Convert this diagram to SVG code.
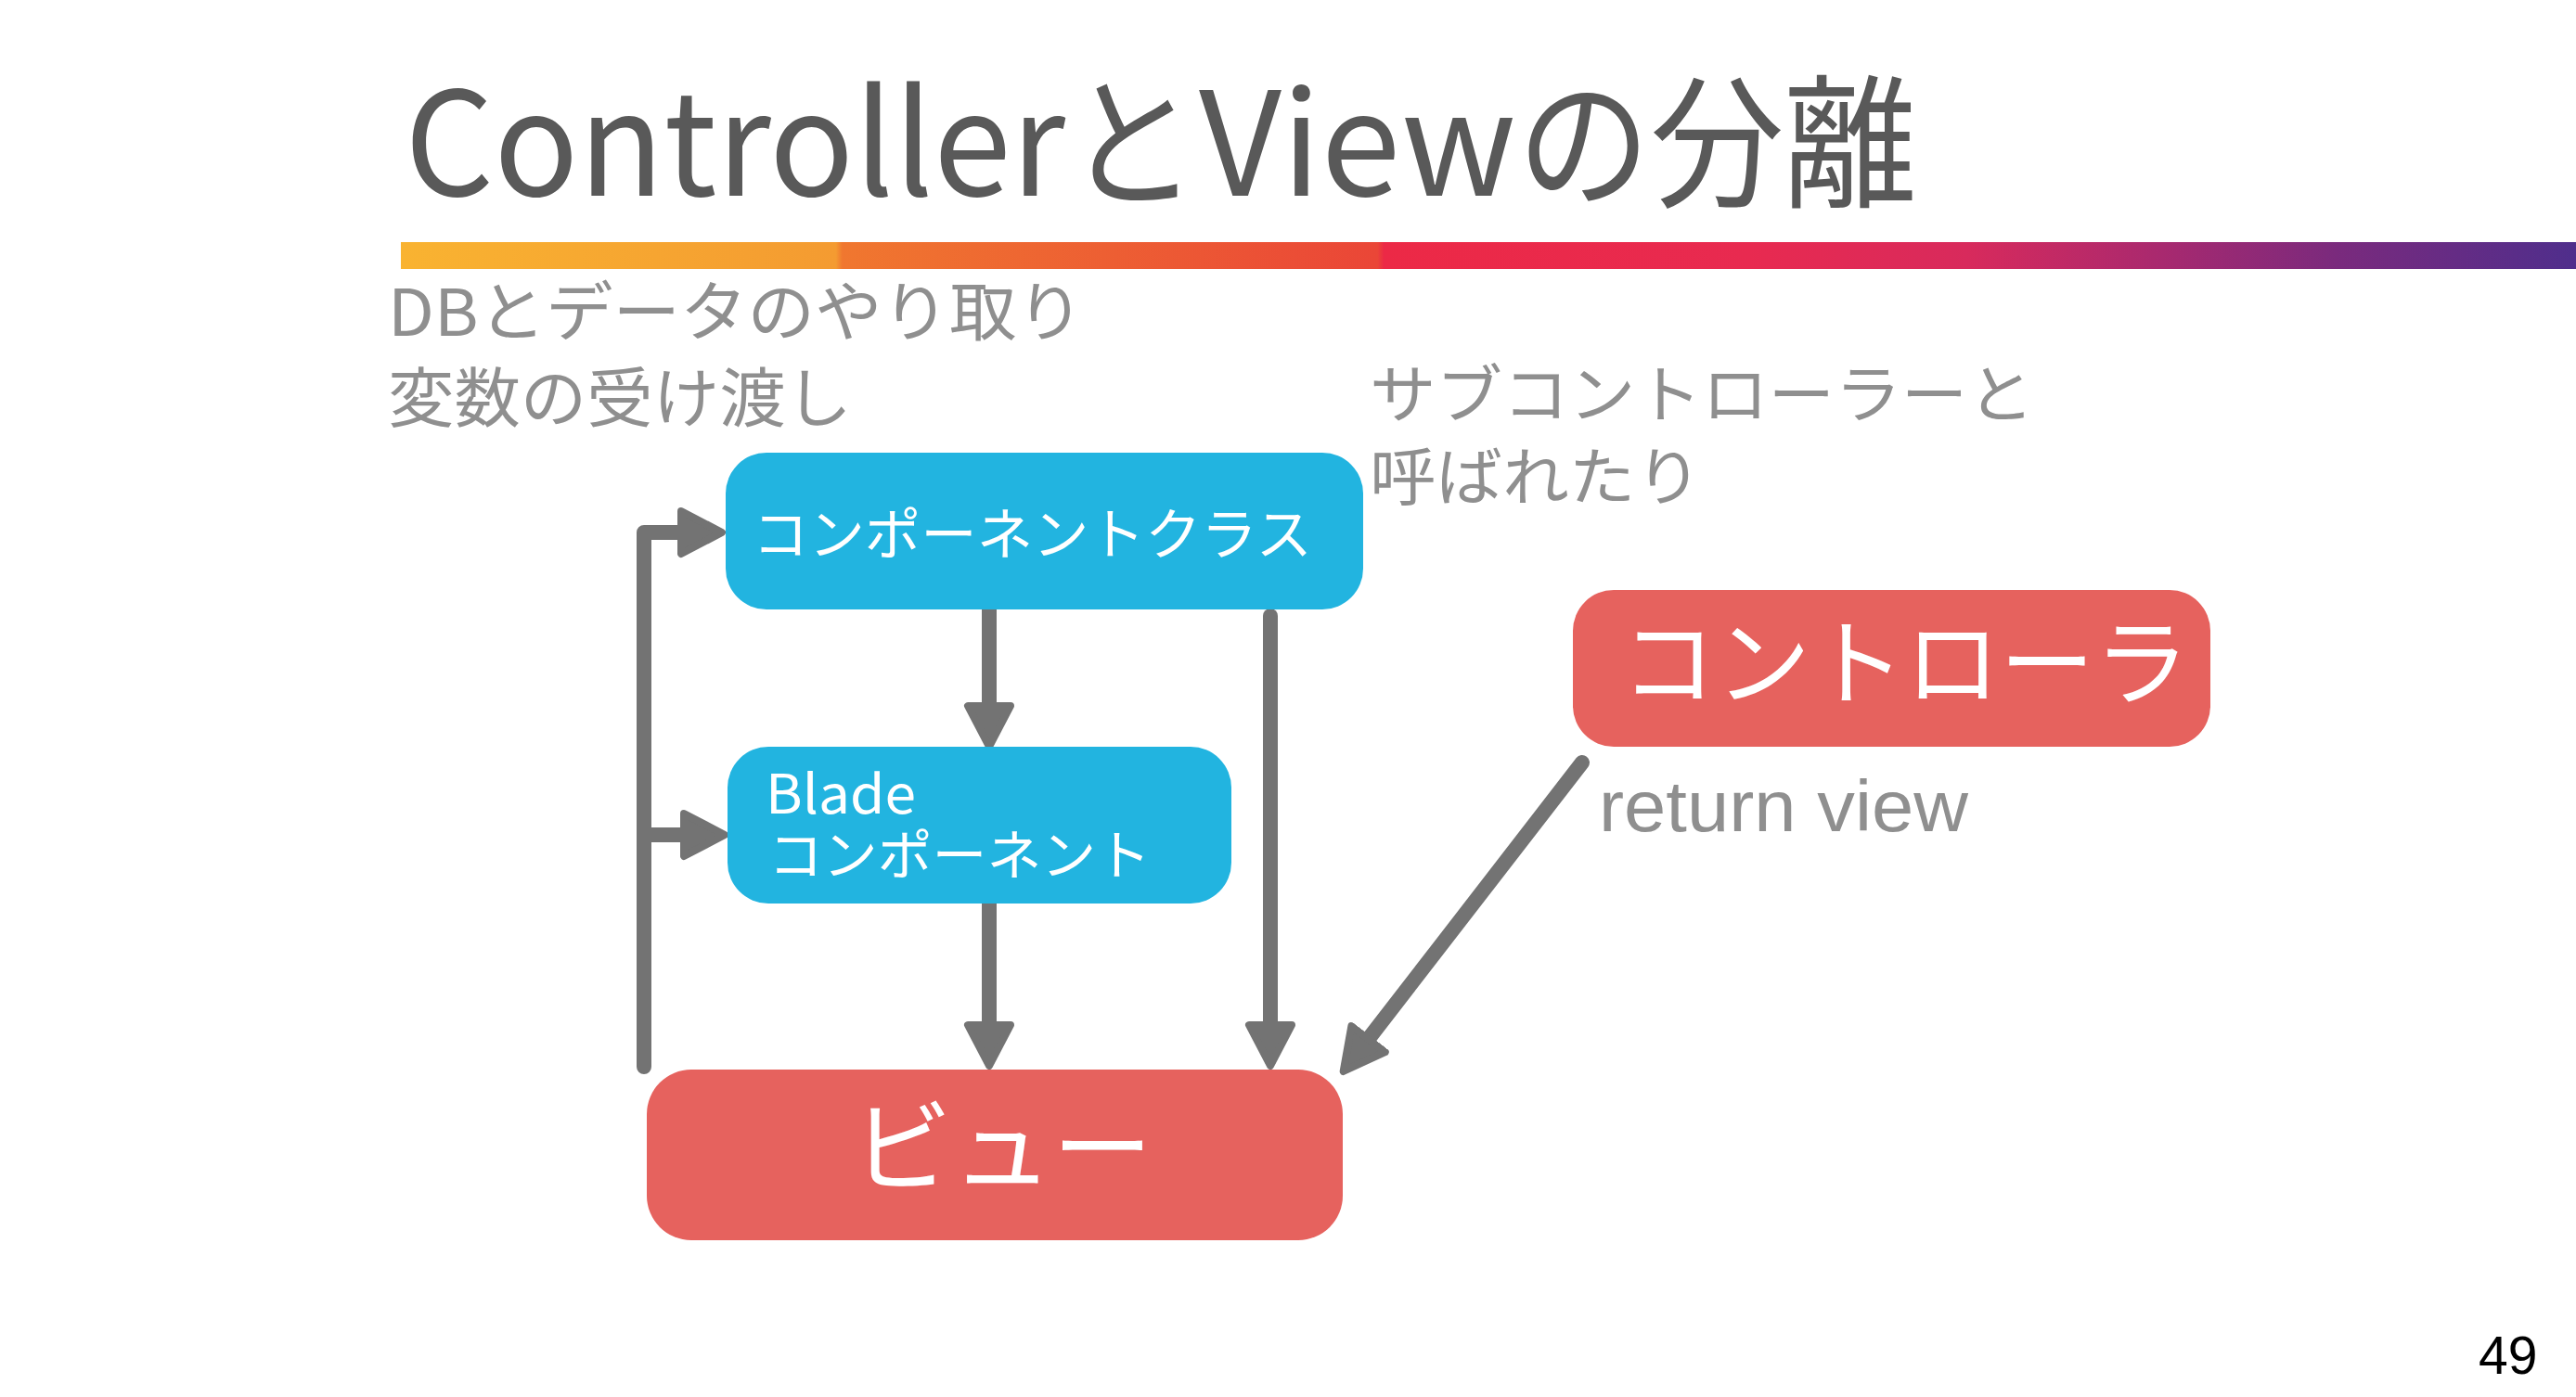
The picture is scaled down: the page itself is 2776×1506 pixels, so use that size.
<svg xmlns="http://www.w3.org/2000/svg" width="2776" height="1506" viewBox="0 0 2776 1506">
<defs>
<linearGradient id="bar" x1="432" y1="0" x2="2776" y2="0" gradientUnits="userSpaceOnUse">
<stop offset="0" stop-color="#f9b331"/>
<stop offset="0.2" stop-color="#f49b31"/>
<stop offset="0.203" stop-color="#f0772f"/>
<stop offset="0.449" stop-color="#ea4637"/>
<stop offset="0.452" stop-color="#ec2946"/>
<stop offset="0.62" stop-color="#e82a50"/>
<stop offset="0.72" stop-color="#d82a5c"/>
<stop offset="0.81" stop-color="#a8296f"/>
<stop offset="0.89" stop-color="#7a2a7d"/>
<stop offset="1" stop-color="#4f2e8c"/>
</linearGradient>
<marker id="ah" markerUnits="userSpaceOnUse" viewBox="0 -30 56 60" refX="0" refY="0" markerWidth="56" markerHeight="60" orient="auto">
<path d="M4,-23 L48,0 L4,23 Z" fill="#737373" stroke="#737373" stroke-width="8" stroke-linejoin="round"/>
</marker>
<style>
.jp{font-family:"Noto Sans CJK JP","Noto Sans",sans-serif;}
.lat{font-family:"Liberation Sans",Arial,sans-serif;}
.gray{fill:#8f8f8f;}
.white{fill:#ffffff;}
.conn{fill:none;stroke:#737373;stroke-width:16;stroke-linejoin:round;}
.blue{fill:#22b4e0;}
.red{fill:#e6625e;}
</style>
</defs>
<rect width="2776" height="1506" fill="#ffffff"/>

<g id="title">
<text class="jp" font-size="155" fill="#595959" y="211"><tspan x="436" textLength="712" lengthAdjust="spacingAndGlyphs">Controller</tspan><tspan x="1149" textLength="142" lengthAdjust="spacingAndGlyphs">と</tspan><tspan x="1292" textLength="342" lengthAdjust="spacingAndGlyphs">View</tspan><tspan x="1635" textLength="431" lengthAdjust="spacingAndGlyphs">の分離</tspan></text>
<rect x="432" y="261" width="2344" height="29" fill="url(#bar)"/>
</g>

<g id="notes">
<text class="jp gray" font-size="70" x="418" y="362" textLength="750" lengthAdjust="spacingAndGlyphs">DBとデータのやり取り</text>
<text class="jp gray" font-size="70" x="418" y="455" textLength="500" lengthAdjust="spacingAndGlyphs">変数の受け渡し</text>
<text class="jp gray" font-size="68" x="1476" y="450" textLength="716" lengthAdjust="spacingAndGlyphs">サブコントローラーと</text>
<text class="jp gray" font-size="68" x="1476" y="539" textLength="358" lengthAdjust="spacingAndGlyphs">呼ばれたり</text>
<text class="lat gray" font-size="78" x="1723" y="896" textLength="398" lengthAdjust="spacingAndGlyphs">return view</text>
</g>

<g id="connectors">
<path class="conn" d="M1066,657 L1066,757" marker-end="url(#ah)"/>
<path class="conn" d="M1066,974 L1066,1101" marker-end="url(#ah)"/>
<path class="conn" stroke-linecap="round" d="M1369,664 L1369,1101" marker-end="url(#ah)"/>
<path class="conn" stroke-linecap="round" d="M694,1150 L694,574 L730,574" marker-end="url(#ah)"/>
<path class="conn" d="M694,900 L733,900" marker-end="url(#ah)"/>
<path class="conn" stroke-width="13" stroke-linecap="round" d="M1705,822 L1477,1117" marker-end="url(#ah)"/>
</g>

<g id="node-component-class">
<rect class="blue" x="782" y="488" width="687" height="169" rx="44" ry="44"/>
<text class="jp white" font-size="60" x="811" y="598" textLength="603" lengthAdjust="spacingAndGlyphs">コンポーネントクラス</text>
</g>

<g id="node-blade-component">
<rect class="blue" x="784" y="805" width="543" height="169" rx="44" ry="44"/>
<text class="jp white" font-size="58"><tspan x="825" y="877" textLength="162" lengthAdjust="spacingAndGlyphs">Blade</tspan><tspan x="828" y="943" textLength="412" lengthAdjust="spacingAndGlyphs">コンポーネント</tspan></text>
</g>

<g id="node-view">
<rect class="red" x="697" y="1153" width="750" height="184" rx="48" ry="48"/>
<text class="jp white" font-size="108" x="1080" y="1276" text-anchor="middle">ビュー</text>
</g>

<g id="node-controller">
<rect class="red" x="1695" y="636" width="687" height="169" rx="44" ry="44"/>
<text class="jp white" font-size="102" x="1747" y="752" textLength="612" lengthAdjust="spacingAndGlyphs">コントローラ</text>
</g>

<text class="lat" font-size="57" x="2671" y="1481" fill="#000000">49</text>
</svg>
